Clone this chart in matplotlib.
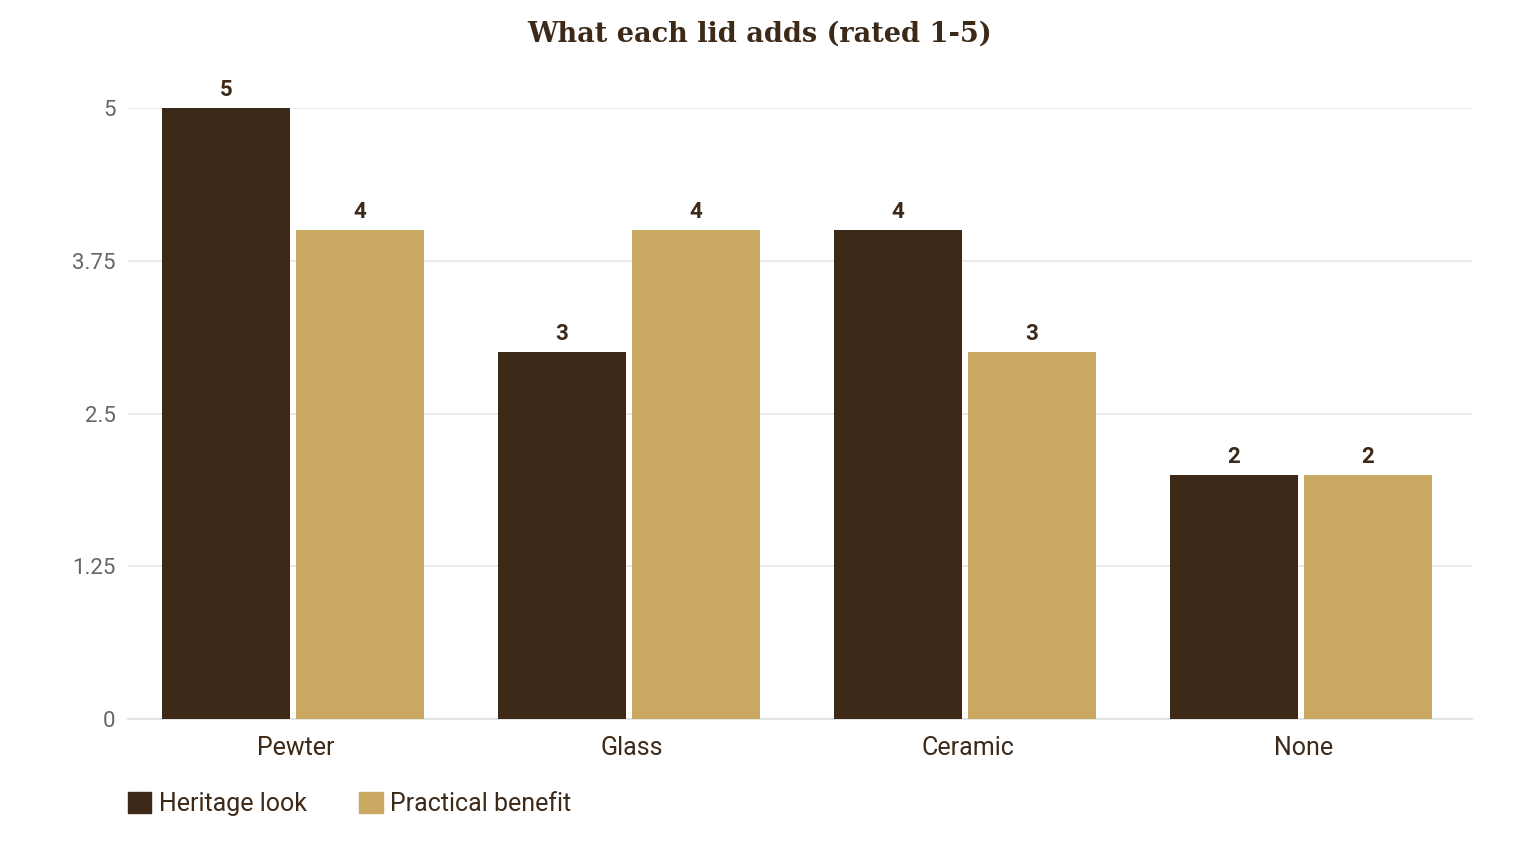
import matplotlib.pyplot as plt
from matplotlib.patches import Patch

categories = ["Pewter", "Glass", "Ceramic", "None"]
heritage = [5, 3, 4, 2]
practical = [4, 4, 3, 2]
yticks = [0, 1.25, 2.5, 3.75, 5]
ytick_labels = ["0", "1.25", "2.5", "3.75", "5"]

dark = "#3d2918"
gold = "#c9a862"

fig = plt.figure(figsize=(15.2, 8.6), dpi=100)
ax = fig.add_axes([128 / 1520, 1 - 719 / 860, 1344 / 1520, 611 / 860])

x = range(len(categories))
w = 0.381
xd = [i - 0.208 for i in x]
xg = [i + 0.190 for i in x]
ax.bar(xd, heritage, width=w, color=dark, zorder=3)
ax.bar(xg, practical, width=w, color=gold, zorder=3)

for xs, vals in ((xd, heritage), (xg, practical)):
    for xi, v in zip(xs, vals):
        ax.annotate(str(v), (xi, v), xytext=(0, 5), textcoords="offset points",
                    ha="center", va="bottom", fontsize=16, fontweight="bold",
                    color=dark, family="Roboto", clip_on=False)

ax.set_xlim(-0.5, len(categories) - 0.5)
ax.set_ylim(0, 5)
ax.set_yticks(yticks)
ax.set_yticklabels(ytick_labels)
ax.set_xticks(list(x))
ax.set_xticklabels(categories)
ax.grid(axis="y", color="#e8e8e8", linewidth=1.2, zorder=0)
ax.tick_params(axis="both", length=0)
ax.tick_params(axis="y", pad=9, labelsize=16, labelcolor="#666666")
ax.tick_params(axis="x", pad=12, labelsize=18, labelcolor=dark)
for lab in ax.get_xticklabels() + ax.get_yticklabels():
    lab.set_family("Roboto")
for s in ["top", "right", "left"]:
    ax.spines[s].set_visible(False)
ax.spines["bottom"].set_color("#e0e0e0")
ax.spines["bottom"].set_linewidth(1.2)

fig.text(760 / 1520, 1 - 34 / 860, "What each lid adds (rated 1-5)", ha="center", va="center",
         fontsize=19.5, fontweight="bold", color=dark, family="DejaVu Serif")

handles = [Patch(color=dark, label="Heritage look"), Patch(color=gold, label="Practical benefit")]
fig.legend(handles=handles, loc="center left", bbox_to_anchor=(105 / 1520, 1 - 804 / 860),
           ncol=2, frameon=False, prop={"family": "Roboto", "size": 18},
           handlelength=0.95, handleheight=0.95, handletextpad=0.3, columnspacing=2.1,
           labelcolor=dark)

fig.savefig("out.png", dpi=100)
